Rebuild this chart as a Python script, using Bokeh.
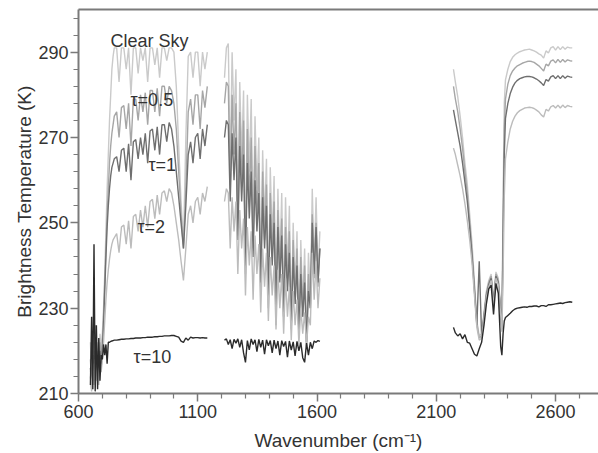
from bokeh.plotting import figure
from bokeh.models import FixedTicker, LinearAxis, Label, Range1d
from bokeh.embed import file_html
from bokeh.resources import INLINE

nan = float("nan")

# ---------------- data ----------------
wn_r1 = [650, 655, 660, 665, 670, 675, 680, 685, 690, 695, 700, 705, 710, 715, 720, 725, 730, 735, 740, 745, 750,
         760, 770, 780, 790, 800, 810, 820, 830, 840, 850,
         860, 870, 880, 890, 900, 910, 920, 930, 940, 950,
         960, 970, 980, 990, 1000, 1010, 1020, 1030, 1040, 1050,
         1060, 1070, 1080, 1090, 1100, 1110, 1120, 1130, 1140]
wn_r2 = [1212, 1220, 1228, 1236, 1244, 1252, 1260, 1268, 1276, 1284,
         1292, 1300, 1308, 1316, 1324, 1332, 1340, 1348, 1356, 1364,
         1372, 1380, 1388, 1396, 1404, 1412, 1420, 1428, 1436, 1444,
         1452, 1460, 1468, 1476, 1484, 1492, 1500, 1508, 1516, 1524,
         1532, 1540, 1548, 1556, 1564, 1572, 1580, 1588, 1596, 1604, 1612]
wn_r3 = [2172, 2180, 2190, 2200, 2210, 2220, 2230, 2240, 2250, 2260,
         2270, 2280, 2290, 2300, 2310, 2320, 2330, 2340, 2350, 2360,
         2370, 2375, 2380, 2385, 2390, 2400, 2410, 2420, 2430, 2440,
         2450, 2460, 2470, 2480, 2490, 2500, 2510, 2520, 2530, 2540,
         2550, 2560, 2570, 2580, 2590, 2600, 2610, 2620, 2630, 2640,
         2650, 2660, 2670]

clear_r1 = [222, 214, 224, 216, 226, 218, 222, 216, 224, 220, 224, 230, 238, 248, 258, 266, 274, 280, 286, 289, 291,
            291, 283, 291, 291, 286, 291, 280, 291, 291, 285,
            291, 288, 291, 283, 291, 291, 287, 291, 284, 291,
            291, 288, 291, 291, 290, 282, 268, 255, 245, 270,
            289, 290, 284, 290, 290, 282, 290, 286, 290]
clear_r2 = [284, 291, 292, 262, 290, 274, 286, 250, 283, 265,
            281, 240, 280, 262, 279, 248, 275, 258, 270, 236,
            267, 250, 265, 232, 263, 246, 261, 228, 258, 240,
            257, 230, 256, 238, 254, 226, 250, 234, 248, 224,
            246, 230, 244, 222, 243, 232, 258, 240, 256, 238, 248]
clear_r3 = [286, 283, 279.5, 275, 270, 264, 259, 252, 245, 236,
            227, 223.5, 224, 229, 234, 236.5, 238, 232, 238.5, 237,
            230, 226, 255, 278, 283.5, 286, 287.8, 288.8, 289.4, 289.8,
            290.1, 290.3, 290.5, 290.6, 290.7, 290.5, 290.3, 290, 289.6, 289.3,
            288.6, 290.3, 289.8, 291, 291.3, 290.5, 291.3, 290.6, 291.3, 290.7,
            291.2, 291, 291]

tau05_r1 = [218, 212, 220, 214, 222, 216, 220, 215, 222, 218, 222, 228, 236, 244, 252, 258, 264, 268, 271, 273, 275,
            276, 270, 277, 277.5, 272, 278, 268, 279, 279, 274,
            280, 276, 280.5, 273, 281, 281, 276, 281.5, 275, 282,
            282, 278, 282, 281, 278, 272, 262, 252, 244, 258,
            276, 279, 273, 280, 280, 272, 281, 277, 282]
tau05_r2 = [278, 283, 282, 258, 280, 266, 278, 247, 276, 259,
            274, 238, 272, 255, 270, 244, 268, 252, 264, 234,
            262, 246, 259, 230, 257, 242, 255, 226, 253, 237,
            251, 228, 249, 235, 248, 225, 246, 231, 244, 223,
            242, 228, 240, 221, 238, 230, 252, 237, 250, 235, 244]
tau05_r3 = [282, 279, 276, 272, 267.5, 262, 257, 250, 243, 235,
            226.5, 223, 223.5, 228.5, 233.5, 236, 237.5, 231.5, 238, 236.5,
            229.5, 225.5, 250, 272, 279, 282.5, 284.5, 285.6, 286.3, 286.8,
            287.1, 287.4, 287.6, 287.8, 287.9, 287.8, 287.6, 287.2, 286.8, 286.2,
            285.6, 287.2, 286.8, 287.9, 288.2, 287.5, 288.3, 287.6, 288.3, 287.7,
            288.2, 288, 287.9]

tau1_r1 = [216, 211, 219, 213, 220, 214, 218, 213, 220, 216, 220, 226, 234, 242, 249, 254, 258, 261, 263, 264, 265,
           265.5, 262, 267, 267.5, 262, 268.5, 260, 269, 269.5, 265,
           270, 266, 271, 264, 271.5, 272, 267, 272.5, 266, 273,
           273, 269, 273.5, 272, 268, 262, 256, 250, 244, 254,
           266, 269, 264, 270, 271, 265, 272, 268, 273]
tau1_r2 = [270, 274, 273, 255, 271, 260, 270, 246, 268, 255,
           266, 240, 264, 251, 262, 242, 260, 248, 257, 236,
           256, 244, 254, 233, 252, 240, 250, 230, 249, 236,
           247, 228, 245, 234, 243, 226, 242, 231, 240, 224,
           238, 228, 236, 222, 234, 230, 250, 238, 249, 236, 244]
tau1_r3 = [276.5, 274, 271, 268, 264, 259.5, 255, 249, 242, 234,
           226, 241, 223.5, 228, 233, 235.5, 237, 231, 237.5, 236,
           229, 225, 246, 266, 274.5, 278, 280.3, 281.8, 282.8, 283.4,
           283.8, 284, 284.2, 284.3, 284.3, 284.2, 284, 283.7, 283.3, 282.8,
           282.2, 283.6, 283.2, 284.2, 284.5, 283.8, 284.5, 283.8, 284.5, 283.9,
           284.4, 284.2, 284.1]

tau2_r1 = [214, 210.5, 217, 212, 218, 213, 216, 212, 218, 215, 218, 222, 227, 232, 236, 239, 241.5, 243.5, 245, 246, 246.5,
           247.5, 243, 249, 249.5, 245, 250.5, 244, 251.5, 252, 248,
           253, 249, 254, 249, 255, 255.5, 251, 256.5, 252, 257,
           257.5, 255, 258, 257, 254, 250, 246, 241, 236.5, 244,
           252, 254, 250, 255, 256, 252, 257, 255, 258.5]
tau2_r2 = [255, 258, 257, 244, 256, 248, 255, 238, 253, 244,
           251, 233, 249, 240, 248, 232, 247, 238, 245, 229,
           244, 235, 243, 227, 242, 233, 240, 225, 239, 230,
           238, 224, 237, 228, 235, 222.5, 234, 226, 232, 221.5,
           230, 224, 229, 221, 228, 226, 243, 232, 241, 230, 237]
tau2_r3 = [267.5, 266, 263.5, 261, 258, 254.5, 250.5, 246, 240.5, 233,
           225.5, 222.5, 223, 227.5, 232.5, 235, 236.5, 230.5, 237, 235.5,
           228.5, 224.5, 238, 256, 265, 269, 272, 273.8, 275, 275.8,
           276.3, 276.6, 276.9, 277, 277.1, 277, 276.8, 276.4, 276, 275.3,
           274.8, 276.6, 276.2, 277.2, 277.5, 276.9, 277.6, 276.9, 277.6, 277,
           277.5, 277.3, 277.2]

tau10_r1 = [212, 228, 211, 245, 210.5, 226, 211, 223, 213, 219, 218, 221.5, 219, 221.5, 217, 222, 222, 222.2, 222.3, 222.4, 222.5,
            222.5, 222.6, 222.7, 222.7, 222.8, 222.8, 222.9, 222.9, 223, 223,
            223, 223.1, 223.1, 223.2, 223.2, 223.2, 223.3, 223.3, 223.4, 223.4,
            223.5, 223.5, 223.5, 223.6, 223.6, 223.4, 223.2, 222.3, 222, 223,
            222.5, 223.2, 223, 223.1, 223.1, 223, 223.1, 223, 223]
tau10_r2 = [222.5, 222.8, 221.5, 222.6, 220.5, 222.7, 221.8, 222.8, 220.8, 222.6,
            219.5, 217.3, 222.4, 220.2, 222.8, 221.5, 222.6, 219.8, 222.7, 220.8,
            222.5, 219.2, 222.6, 221.2, 222.4, 219.5, 222.5, 220.5, 222.3, 219,
            222.4, 221, 222.2, 218.5, 222.3, 220.2, 222.1, 218.8, 222.2, 220,
            222, 218.4, 217.3, 221.8, 219, 222, 220.5, 222.3, 222, 222.4, 222.2]
tau10_r3 = [225.5, 224.2, 223.5, 224, 222.8, 223.8, 222, 221.8, 220.5, 219.2,
            218.8, 220.5, 222, 226, 231, 234.5, 235.4, 228.5, 235.8, 233.5,
            221, 219, 224, 227, 227.8, 228.3, 228.8, 229.4, 229.8, 230,
            230.1, 230.2, 230.3, 230.2, 230.4, 230.4, 230.5, 230.5, 230.3, 230.6,
            230.6, 230.4, 230.8, 230.8, 230.9, 231, 231.1, 231.2, 231.1, 231.3,
            231.4, 231.5, 231.4]

x_major_ticks = [600, 1100, 1600, 2100, 2600]
x_minor_ticks = [700, 800, 900, 1000, 1200, 1300, 1400, 1500, 1700, 1800, 1900, 2000,
                 2200, 2300, 2400, 2500, 2700]
y_major_ticks = [210, 230, 250, 270, 290]
y_minor_ticks = [214, 218, 222, 226, 234, 238, 242, 246, 254, 258, 262, 266,
                 274, 278, 282, 286, 294, 298]

series_names = ["Clear Sky", "τ=0.5", "τ=1", "τ=2", "τ=10"]
series_colors = ["#cacaca", "#a6a6a6", "#6f6f6f", "#bcbcbc", "#2b2b2b"]


def join(a, b, c):
    return a + [nan] + b + [nan] + c


wavenumber = join(wn_r1, wn_r2, wn_r3)
series = [join(clear_r1, clear_r2, clear_r3),
          join(tau05_r1, tau05_r2, tau05_r3),
          join(tau1_r1, tau1_r2, tau1_r3),
          join(tau2_r1, tau2_r2, tau2_r3),
          join(tau10_r1, tau10_r2, tau10_r3)]

# ---------------- figure ----------------
FONT = "Liberation Sans"
AXC = "#7a7a7a"
TXT = "#333333"

p = figure(width=598, height=453, output_backend="svg", toolbar_location=None,
           x_range=Range1d(600, 2780), y_range=Range1d(210, 300),
           min_border_left=78, min_border_right=0, min_border_top=9, min_border_bottom=60)
p.grid.visible = False
p.outline_line_color = None
p.background_fill_color = "white"
p.border_fill_color = "white"

for ys, col in zip(series, series_colors):
    p.line(wavenumber, ys, line_color=col, line_width=1.4)

xa = p.xaxis[0]
ya = p.yaxis[0]
xa.ticker = FixedTicker(ticks=x_major_ticks, minor_ticks=x_minor_ticks)
ya.ticker = FixedTicker(ticks=y_major_ticks, minor_ticks=y_minor_ticks)
xa.axis_label = "Wavenumber (cm⁻¹)"
ya.axis_label = "Brightness Temperature (K)"
for ax in (xa, ya):
    ax.axis_line_color = AXC
    ax.axis_line_width = 2
    ax.major_tick_line_color = AXC
    ax.major_tick_line_width = 1.5
    ax.minor_tick_line_color = AXC
    ax.minor_tick_line_width = 1.2
    ax.major_tick_in = 0
    ax.major_tick_out = 8
    ax.minor_tick_in = 0
    ax.minor_tick_out = 5
    ax.major_label_text_font = FONT
    ax.major_label_text_font_size = "18px"
    ax.major_label_text_color = TXT
    ax.axis_label_text_font = FONT
    ax.axis_label_text_font_size = "19px"
    ax.axis_label_text_font_style = "normal"
    ax.axis_label_text_color = TXT
xa.major_label_standoff = 3
xa.axis_label_standoff = 9
ya.major_label_standoff = 2
ya.axis_label_standoff = 0

top = LinearAxis(ticker=FixedTicker(ticks=[]), axis_line_color=AXC, axis_line_width=2,
                 major_tick_in=0, major_tick_out=0, minor_tick_in=0, minor_tick_out=0,
                 major_label_text_font_size="0px", major_label_standoff=0)
p.add_layout(top, "above")

label_pos = [(734, 292.6), (818, 278.9), (893, 263.6), (847, 249.0), (831, 218.5)]
for name, (lx, ly) in zip(series_names, label_pos):
    p.add_layout(Label(x=lx, y=ly, text=name, text_font=FONT, text_font_size="18px",
                       text_color=TXT, text_baseline="alphabetic"))

open("out.html", "w").write(file_html(p, INLINE))
